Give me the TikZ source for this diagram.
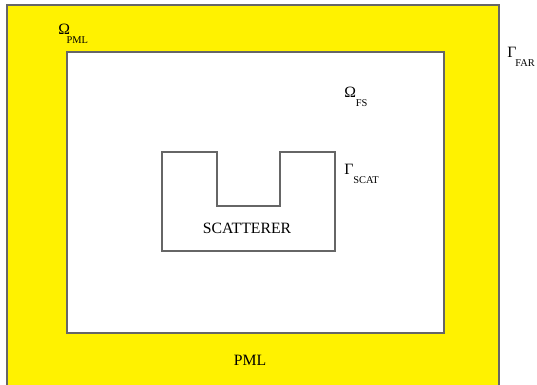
\documentclass[tikz,border=0pt]{standalone}
\usepackage{fontspec}
\setmainfont{Liberation Serif}
\usetikzlibrary{positioning}

% symbol with a lowered subscript: [kern]{symbol}{subscript}
\newcommand{\sublbl}[3][0pt]{#2\kern#1\raisebox{-6.6pt}{\fontsize{7.8}{9}\selectfont #3}}

\tikzset{
  lbl/.style={inner sep=0pt, anchor=base west, font=\fontsize{11.8}{13}\selectfont},
  txt/.style={inner sep=0pt, anchor=base, font=\fontsize{11.8}{13}\selectfont},
  edge/.style={draw=black!60, line width=0.8pt}
}

\begin{document}
\begin{tikzpicture}[x=0.75pt, y=-0.75pt]
\useasboundingbox (0,0) rectangle (537,385);

% PML layer
\fill[yellow] (7,5) rectangle (499,392);
\draw[edge] (7,392) -- (7,5) -- (499,5) -- (499,392);

% free space
\filldraw[fill=white, edge] (67,52) rectangle (444,333);

% scatterer
\draw[edge] (162,152) -- (217,152) -- (217,206) -- (280,206) -- (280,152)
  -- (335,152) -- (335,251) -- (162,251) -- cycle;

% labels
\node[lbl] (omegapml) at (58,34.5) {\sublbl[-2.5pt]{Ω}{PML}};
\node[lbl] (gammafar) at (507,58) {\sublbl[-0.8pt]{Γ}{FAR}};
\node[lbl] (omegafs) at (344,98) {\sublbl{Ω}{FS}};
\node[lbl] (gammascat) at (344,175) {\sublbl{Γ}{SCAT}};
\node[txt] (scatterer) at (247,234) {SCATTERER};
\node[txt] (pml) at (250,366) {PML};

\end{tikzpicture}
\end{document}
